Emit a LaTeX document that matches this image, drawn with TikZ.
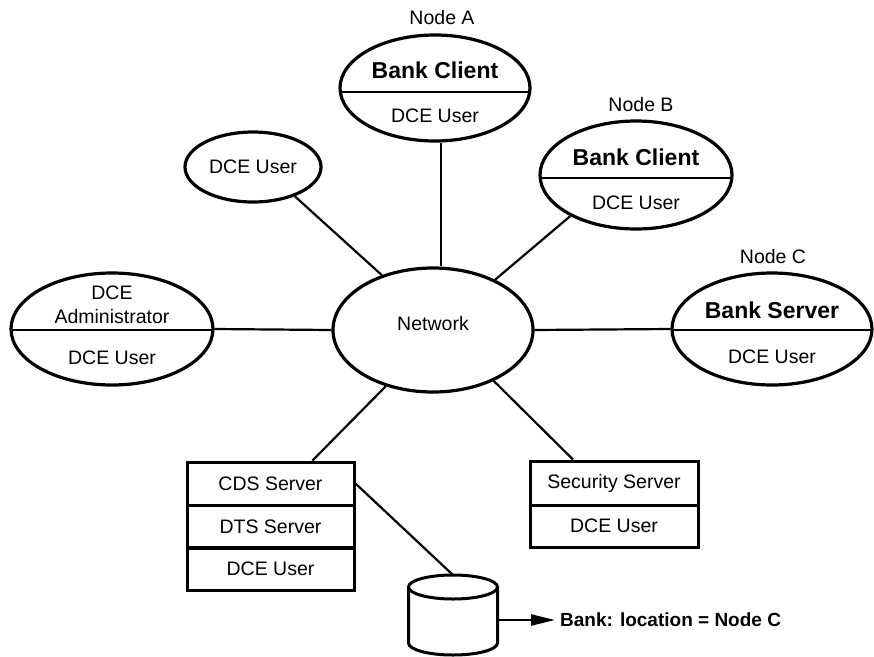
\documentclass[tikz,border=0pt]{standalone}
\usepackage{fontspec}
\setmainfont{Liberation Sans}
\usetikzlibrary{shapes.geometric,arrows.meta}
\begin{document}
\begin{tikzpicture}[x=1pt,y=-1pt,
  ell/.style={ellipse, draw, line width=3.2pt, inner sep=0pt},
  divl/.style={path picture={\draw[line width=2.5pt] ([yshift=#1]path picture bounding box.west) -- ([yshift=#1]path picture bounding box.east);}},
  txt/.style={font=\fontsize{19.5}{23}\selectfont, inner sep=0pt},
  btxt/.style={font=\fontsize{23}{27}\selectfont\bfseries, inner sep=0pt},
  boxrow/.style={draw, rectangle, line width=3pt, inner sep=0pt, font=\fontsize{19.5}{23}\selectfont},
  conn/.style={line width=2.2pt}]
\useasboundingbox (0,0) rectangle (874,656);

% Node A
\node[ell, divl=-4pt, minimum width=190pt, minimum height=106pt] (a) at (435,88) {};
\node[txt] (alab) at (442,18) {Node A};
\node[btxt] (atop) at (435,70) {Bank Client};
\node[txt] (abot) at (435,116) {DCE User};

% Node B
\node[ell, divl=-3pt, minimum width=192pt, minimum height=108pt] (b) at (636,175) {};
\node[txt] (blab) at (641,105) {Node B};
\node[btxt] (btop) at (636,157) {Bank Client};
\node[txt] (bbot) at (636,203) {DCE User};

% Node C
\node[ell, divl=-1pt, minimum width=200pt, minimum height=112pt] (c) at (772,329) {};
\node[txt] (clab) at (773,257) {Node C};
\node[btxt] (ctop) at (772,310) {Bank Server};
\node[txt] (cbot) at (772,357) {DCE User};

% Administrator
\node[ell, divl=-1pt, minimum width=202pt, minimum height=112pt] (adm) at (112,329) {};
\node[txt] (adm1) at (112,293) {DCE};
\node[txt] (adm2) at (112,317) {Administrator};
\node[txt] (adm3) at (112,358) {DCE User};

% small DCE User
\node[ell, minimum width=136pt, minimum height=70pt, font=\fontsize{19.5}{23}\selectfont] (u) at (253,167) {DCE User};

% Network
\node[ell, minimum width=200pt, minimum height=124pt] (net) at (433,330) {};
\node[txt] (netlab) at (433,324) {Network};

% CDS stack
\node[boxrow, minimum width=167pt, minimum height=43pt] (cds) at (270.5,483.5) {CDS Server};
\node[boxrow, minimum width=167pt, minimum height=43pt] (dts) at (270.5,526.5) {DTS Server};
\node[boxrow, minimum width=167pt, minimum height=43pt] (cdsu) at (270.5,569) {DCE User};

% Security stack
\node[boxrow, minimum width=168pt, minimum height=44pt] (sec) at (614,483) {Security Server};
\node[boxrow, minimum width=168pt, minimum height=42pt] (secu) at (614,526) {DCE User};

% Cylinder
\coordinate (cyltop) at (453,575);
\coordinate (cylR) at (498,620);
\draw[line width=3pt, fill=white] (408.5,587) -- (408.5,643) arc[start angle=180, end angle=360, x radius=44.5pt, y radius=12pt] -- (497.5,587);
\draw[line width=3pt, fill=white] (453,587) ellipse [x radius=44.5pt, y radius=12pt];

\node[font=\fontsize{19}{23}\selectfont\bfseries, inner sep=0pt, anchor=west] (loc) at (560,620) {Bank: location = Node C};

% Connectors
\draw[conn] ([xshift=6pt]a.south) -- ([xshift=8pt]net.north);
\draw[conn] (u.-35) -- (net.133);
\draw[conn] (b.212) -- (net.39);
\draw[conn] (adm.east) -- (net.west);
\draw[conn] (net.east) -- (c.west);
\draw[conn] (net.-130) -- ([xshift=42pt]cds.north);
\draw[conn] (net.-40) -- ([xshift=-41pt]sec.north);
\draw[conn] (cds.east) -- (cyltop);
\draw[conn, -{Triangle[length=24pt,width=11pt]}] (cylR) -- ([xshift=-5pt]loc.west);
\end{tikzpicture}
\end{document}
